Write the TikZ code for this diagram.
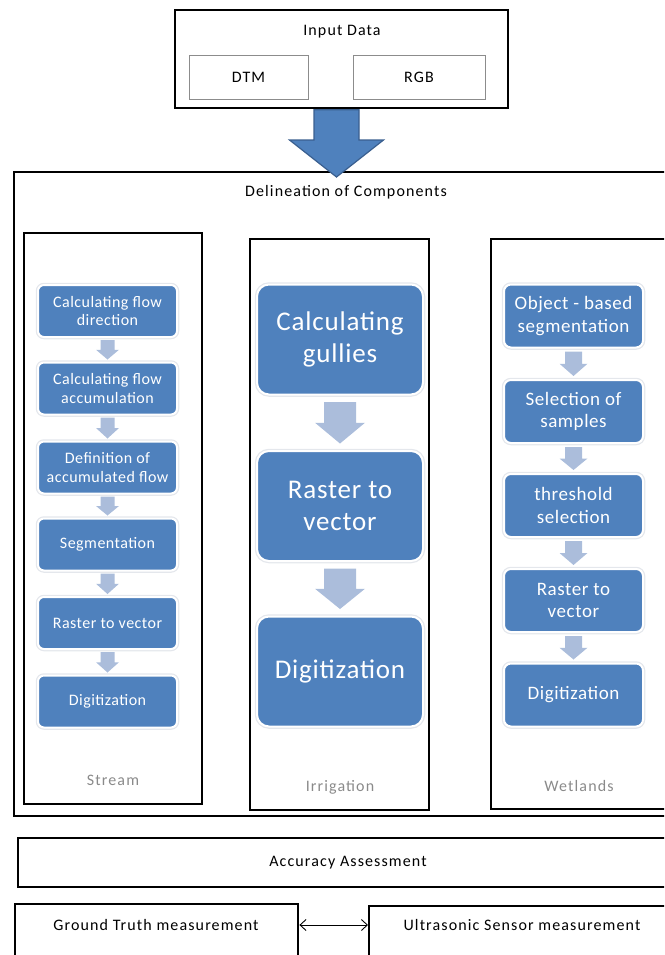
\documentclass[tikz,border=0pt]{standalone}
\usepackage{fontspec}
\setmainfont{Carlito}
\newfontfamily\spacedfont[LetterSpace=7]{Carlito}
\newfontfamily\boxfont[LetterSpace=3]{Carlito}
\usetikzlibrary{calc,arrows.meta}

\newcommand{\flowarrow}[5]{%
  \fill[arrowblue] let \p1=(#1.south), \p2=(#2.north), \p3=($(#1.south)!0.5!(#2.north)$) in
    (\x1-#3,\y1-#5) -- (\x1+#3,\y1-#5) -- (\x1+#3,\y3) -- (\x1+#4,\y3)
    -- (\x1,\y2+#5) -- (\x1-#4,\y3) -- (\x1-#3,\y3) -- cycle;}

\begin{document}
\begin{tikzpicture}[x=1pt,y=-1pt,
  frame/.style={draw=black,line width=2.4pt},
  plain/.style={font=\spacedfont\fontsize{16}{19}\selectfont,text=ink},
  databox/.style={draw=black!45,line width=0.8pt,plain},
  tag/.style={font=\spacedfont\fontsize{16}{19}\selectfont,text=tagcol},
  stepbox/.style={fill=stepblue,draw=white,line width=2pt,preaction={draw=halo,line width=4.5pt},
    text=white,align=center,inner sep=2pt},
  streamstep/.style={stepbox,rounded corners=6pt,minimum width=139pt,minimum height=52pt,
    font=\boxfont\fontsize{16}{18.5}\selectfont},
  irrigstep/.style={stepbox,rounded corners=12pt,minimum width=166pt,minimum height=110pt,
    font=\boxfont\fontsize{27}{32}\selectfont},
  wetlstep/.style={stepbox,rounded corners=7pt,minimum width=139pt,minimum height=63pt,
    font=\boxfont\fontsize{19}{22.5}\selectfont}]
\definecolor{ink}{HTML}{000000}\definecolor{tagcol}{HTML}{8A8A8A}
\definecolor{stepblue}{HTML}{4F81BD}\definecolor{arrowblue}{HTML}{ABBDDB}
\definecolor{halo}{HTML}{E4E7EC}\definecolor{bigedge}{HTML}{3A5F8F}
\useasboundingbox (0,0) rectangle (664,955);
\clip (0,0) rectangle (664,955);
\node[frame,minimum width=666pt,minimum height=644pt] (delin) at (347,494) {};
\node[plain] (delinlabel) at (346,192) {Delineation of Components};
\node[frame,minimum width=333pt,minimum height=98pt] (input) at (341.5,59) {};
\node[plain] (inputlabel) at (342,32) {Input Data};
\node[databox,minimum width=119pt,minimum height=44pt] (dtm) at (248.5,77) {DTM};
\node[databox,minimum width=132pt,minimum height=44pt] (rgb) at (419,77) {RGB};
\coordinate (tip) at (336.5,177);
\filldraw[fill=stepblue,draw=bigedge,line width=1.2pt] let \p1=(input.south -| tip), \p2=(tip) in
  (\x1-22.5pt,\y1-0.5pt) -- (\x1+22.5pt,\y1-0.5pt) -- (\x1+22.5pt,\y2+37pt) -- (\x1+47pt,\y2+37pt)
  -- (\x2,\y2) -- (\x1-47pt,\y2+37pt) -- (\x1-22.5pt,\y2+37pt) -- cycle;
\node[frame,minimum width=178pt,minimum height=571pt] (stream) at (113,518.5) {};
\node[frame,minimum width=179pt,minimum height=571pt] (irrig) at (339.5,524.5) {};
\node[frame,minimum width=179pt,minimum height=570pt] (wetl) at (580.5,524) {};
\node[streamstep] (s1) at (107.5,311) {Calculating flow\\direction};
\node[streamstep] (s2) at (107.5,388.5) {Calculating flow\\accumulation};
\node[streamstep] (s3) at (107.5,467.5) {Definition of\\accumulated flow};
\node[streamstep] (s4) at (107.5,544.5) {Segmentation};
\node[streamstep] (s5) at (107.5,623) {Raster to vector};
\node[streamstep] (s6) at (107.5,701.5) {Digitization};
\node[tag] (streamtag) at (113,780) {Stream};
\foreach \a/\b in {s1/s2,s2/s3,s3/s4,s4/s5,s5/s6}
  \flowarrow{\a}{\b}{7pt}{11.5pt}{2pt};
\node[irrigstep] (i1) at (340,339.5) {Calculating\\gullies};
\node[irrigstep] (i2) at (340,506) {Raster to\\vector};
\node[irrigstep] (i3) at (340,671.5) {Digitization};
\node[tag] (irrigtag) at (340,787) {Irrigation};
\foreach \a/\b in {i1/i2,i2/i3}
  \flowarrow{\a}{\b}{16pt}{25pt}{6.5pt};
\node[wetlstep] (w1) at (573.5,316) {Object - based\\segmentation};
\node[wetlstep] (w2) at (573.5,411.5) {Selection of\\samples};
\node[wetlstep] (w3) at (573.5,505.5) {threshold\\selection};
\node[wetlstep] (w4) at (573.5,600.5) {Raster to\\vector};
\node[wetlstep] (w5) at (573.5,695) {Digitization};
\node[tag] (wetltag) at (579,786) {Wetlands};
\foreach \a/\b in {w1/w2,w2/w3,w3/w4,w4/w5}
  \flowarrow{\a}{\b}{8.5pt}{14pt}{3pt};
\node[frame,plain,minimum width=660pt,minimum height=49pt] (accuracy) at (348,862.5) {Accuracy Assessment};
\node[frame,minimum width=283pt,minimum height=100pt,anchor=north west] (gt) at (14,903) {};
\node[plain] (gtlabel) at (156,925) {Ground Truth measurement};
\node[frame,minimum width=320pt,minimum height=100pt,anchor=north west] (us) at (368,905) {};
\node[plain] (uslabel) at (522,925) {Ultrasonic Sensor measurement};
\draw[line width=0.9pt,{Straight Barb[length=6pt,width=11pt]}-{Straight Barb[length=6pt,width=11pt]}]
  (gt.east |- gtlabel) -- (us.west |- gtlabel);
\end{tikzpicture}
\end{document}
